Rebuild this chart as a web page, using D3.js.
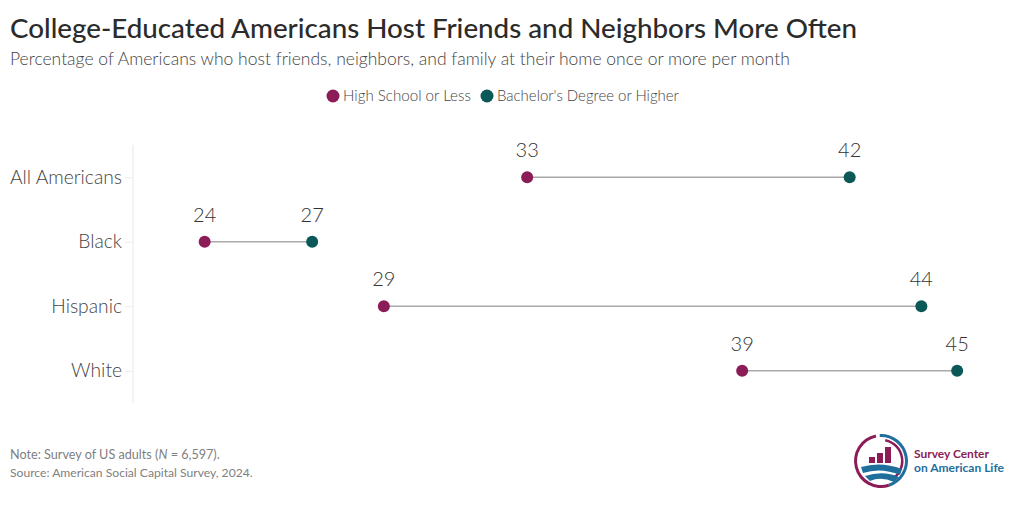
<!DOCTYPE html>
<html><head><meta charset="utf-8">
<script src="https://cdn.jsdelivr.net/npm/d3@7"></script>
<style>body{margin:0;background:#fff;} svg{display:block;font-family:Lato,"Open Sans",sans-serif;}</style>
</head><body>
<svg id="c" width="1020" height="513"></svg>
<script>
const categories = ["All Americans", "Black", "Hispanic", "White"];
const highSchool = [33, 24, 29, 39];
const bachelor = [42, 27, 44, 45];
const seriesNames = ["High School or Less", "Bachelor's Degree or Higher"];
const colors = ["#8C1C57", "#0B5858"];

const svg = d3.select("#c");
function fitText(sel, target){
  const n = sel.node(); const fs = parseFloat(sel.attr("font-size"));
  const w = n.getComputedTextLength(); sel.attr("font-size", (fs*target/w).toFixed(2));
}

// Title & subtitle
const title = svg.append("text").attr("x",10).attr("y",38).attr("font-size",32).attr("fill","#2b2b2b").attr("font-weight",500)
  .text("College-Educated Americans Host Friends and Neighbors More Often");
fitText(title, 847);
const sub = svg.append("text").attr("x",10).attr("y",65).attr("font-size",17).attr("fill","#444").attr("font-weight",300)
  .text("Percentage of Americans who host friends, neighbors, and family at their home once or more per month");
fitText(sub, 780);

// Legend
const leg = svg.append("g");
const legX = [333, 487];
seriesNames.forEach((s,i)=>{
  leg.append("circle").attr("cx",legX[i]).attr("cy",96).attr("r",6.5).attr("fill",colors[i]);
  const t = leg.append("text").attr("x",legX[i]+10).attr("y",101).attr("font-size",15).attr("fill","#444").attr("font-weight",300).text(s);
  fitText(t, i===0 ? 128 : 182);
});

// Scales
const x = d3.scaleLinear().domain([22, 46]).range([133, 993]);
const y = d3.scalePoint().domain(categories).range([145, 403]).padding(0.5);

// Axis line
svg.append("line").attr("x1",133).attr("x2",133).attr("y1",145).attr("y2",403).attr("stroke","#e8e8e8").attr("stroke-width",1);
const yAxis = svg.append("g").attr("transform","translate(133,0)")
  .call(d3.axisLeft(y).tickSize(8).tickPadding(3));
yAxis.select(".domain").remove();
yAxis.selectAll(".tick line").attr("stroke","#ececec");
yAxis.selectAll(".tick text").attr("font-size",20).attr("fill","#444").attr("font-weight",300)
  .attr("font-family","Lato,'Open Sans',sans-serif").attr("dy","0.32em");
const allLbl = yAxis.selectAll(".tick text").filter(d=>d==="All Americans");
const w0 = allLbl.node().getComputedTextLength();
yAxis.selectAll(".tick text").attr("font-size", (20*112/w0).toFixed(2));

// Dumbbells
const data = categories.map((c,i)=>({c, a:highSchool[i], b:bachelor[i]}));
const g = svg.append("g");
g.selectAll("line.conn").data(data).join("line").attr("class","conn")
  .attr("x1",d=>x(d.a)).attr("x2",d=>x(d.b)).attr("y1",d=>y(d.c)).attr("y2",d=>y(d.c))
  .attr("stroke","#a9a9a9").attr("stroke-width",1.6);
[["a",0],["b",1]].forEach(([k,i])=>{
  g.selectAll("circle.s"+i).data(data).join("circle").attr("class","s"+i)
    .attr("cx",d=>x(d[k])).attr("cy",d=>y(d.c)).attr("r",6).attr("fill",colors[i]);
  g.selectAll("text.l"+i).data(data).join("text").attr("class","l"+i)
    .attr("x",d=>x(d[k])).attr("y",d=>y(d.c)-20).attr("text-anchor","middle").attr("font-weight",300)
    .attr("font-size",20).attr("fill","#333").text(d=>d[k]);
});

// Notes
const note = svg.append("text").attr("x",10).attr("y",459).attr("font-size",13).attr("fill","#808080");
note.append("tspan").text("Note: Survey of US adults (");
note.append("tspan").attr("font-style","italic").text("N");
note.append("tspan").text(" = 6,597).");
fitText(note, 210);
const src = svg.append("text").attr("x",10).attr("y",477).attr("font-size",13).attr("fill","#808080")
  .text("Source: American Social Capital Survey, 2024.");
fitText(src, 243);

// Logo
const logo = svg.append("g").attr("transform","translate(881,461)");
const arc = d3.arc();
logo.append("path").attr("d", arc({innerRadius:24,outerRadius:27,startAngle:-0.2,endAngle:-Math.PI*1.1})).attr("fill","#8C1C57");
logo.append("path").attr("d", arc({innerRadius:24,outerRadius:27,startAngle:-0.05,endAngle:Math.PI*0.9})).attr("fill","#1F6E9C");
logo.append("path").attr("d", arc({innerRadius:20,outerRadius:22.5,startAngle:0.2,endAngle:Math.PI*0.85})).attr("fill","#8C1C57");
[[-12,4,6],[-4,4,10],[4,4,16]].forEach(([bx,w,h])=>{
  logo.append("rect").attr("x",bx).attr("y",-h+2).attr("width",w+2).attr("height",h).attr("fill","#8C1C57");
});
logo.append("path").attr("d","M-20,6 Q0,0 21,8 L19,14 Q0,6 -18,12 Z").attr("fill","#1F6E9C");
logo.append("path").attr("d","M-16,15 Q2,9 18,16 L13,21 Q0,15 -11,20 Z").attr("fill","#1F6E9C");
const l1 = svg.append("text").attr("x",914).attr("y",458).attr("font-size",13).attr("font-weight",700).attr("fill","#8C1C57").text("Survey Center");
fitText(l1, 75);
const l2 = svg.append("text").attr("x",914).attr("y",472).attr("font-size",13).attr("font-weight",700).attr("fill","#1F6E9C").text("on American Life");
fitText(l2, 90);
</script>
</body></html>
